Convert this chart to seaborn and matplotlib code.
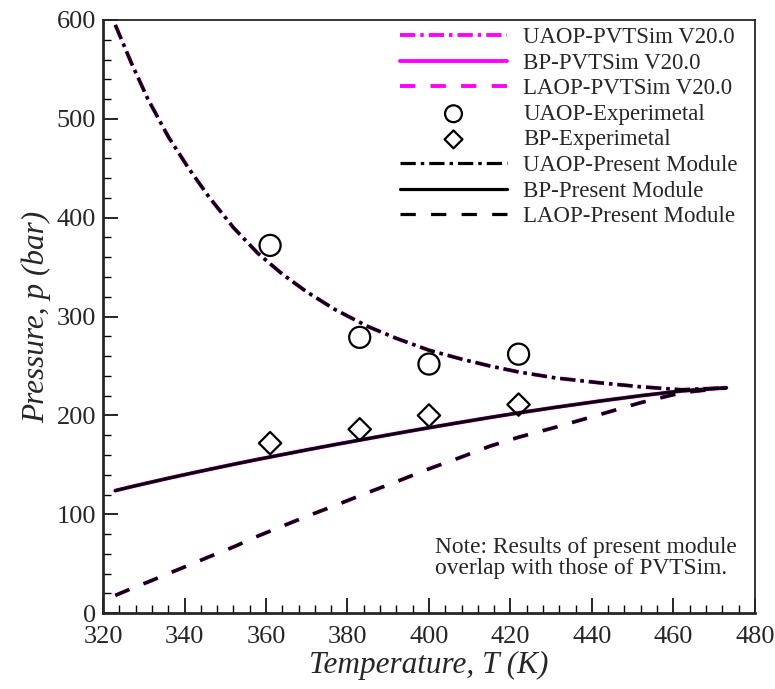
import numpy as np
import pandas as pd
import matplotlib
matplotlib.use("Agg")
import matplotlib.pyplot as plt
from matplotlib.ticker import MultipleLocator
import seaborn as sns

# model curves
temp_curve = [323, 327, 331, 336, 341, 346, 352, 358, 364, 370, 377, 385, 392, 400,
              408, 415, 422, 431, 442, 452, 462, 473]
uaop_curve = [595, 556, 520, 482, 450, 421, 390, 364, 343, 325, 307, 290, 278, 266,
              257, 250, 244, 238, 233, 229, 226, 228]
bp_curve = [124, 128, 131.8, 136.5, 141, 145.4, 150.6, 155.6, 160.4, 165.2, 170.6, 176.6,
            181.8, 187.6, 193.2, 198, 202.6, 208.2, 214.6, 220, 224.8, 228]
laop_curve = [18, 25, 31.5, 40, 48.5, 57, 67, 78, 88, 98, 109, 122, 133, 146,
              158, 169, 178, 188, 201, 213, 223, 228]

# experimental points
temp_exp = [361, 383, 400, 422]
uaop_exp = [372, 279, 252, 262]
bp_exp = [172, 186, 200, 211]

curves = pd.DataFrame({"T": temp_curve, "UAOP": uaop_curve, "BP": bp_curve, "LAOP": laop_curve})
exp = pd.DataFrame({"T": temp_exp, "UAOP": uaop_exp, "BP": bp_exp})

sns.set_style("ticks")
plt.rcParams["font.family"] = ["Liberation Serif", "DejaVu Serif"]
plt.rcParams["lines.scale_dashes"] = False

dashdot = (0, (11, 3.6, 2.5, 3.6))
dashed = (0, (11, 11))

fig = plt.figure(figsize=(7.75, 6.89), dpi=100)
ax = fig.add_axes([0.133, 0.110, 0.841, 0.861])

# PVTSim results (magenta) drawn first
sns.lineplot(data=curves, x="T", y="UAOP", sort=False, color="#ff00ff", lw=2.8, linestyle=dashdot, ax=ax, label="UAOP-PVTSim V20.0")
sns.lineplot(data=curves, x="T", y="BP", sort=False, color="#ff00ff", lw=2.8, linestyle="-", ax=ax, label="BP-PVTSim V20.0")
sns.lineplot(data=curves, x="T", y="LAOP", sort=False, color="#ff00ff", lw=2.8, linestyle=dashed, ax=ax, label="LAOP-PVTSim V20.0")

sns.scatterplot(data=exp, x="T", y="UAOP", marker="o", s=230, facecolor="none", edgecolor="black", linewidth=1.6, ax=ax, label="UAOP-Experimetal", zorder=5)
sns.scatterplot(data=exp, x="T", y="BP", marker="D", s=130, facecolor="none", edgecolor="black", linewidth=1.6, ax=ax, label="BP-Experimetal", zorder=5)

# present module (black)
sns.lineplot(data=curves, x="T", y="UAOP", sort=False, color="black", lw=2.3, linestyle=dashdot, ax=ax, label="UAOP-Present Module")
sns.lineplot(data=curves, x="T", y="BP", sort=False, color="black", lw=2.3, linestyle="-", ax=ax, label="BP-Present Module")
sns.lineplot(data=curves, x="T", y="LAOP", sort=False, color="black", lw=2.3, linestyle=dashed, ax=ax, label="LAOP-Present Module")

ax.set_xlim(320, 480)
ax.set_ylim(0, 600)
ax.xaxis.set_major_locator(MultipleLocator(20))
ax.xaxis.set_minor_locator(MultipleLocator(4))
ax.yaxis.set_major_locator(MultipleLocator(100))
ax.yaxis.set_minor_locator(MultipleLocator(20))
ax.tick_params(which="both", direction="in", labelsize=19, width=1.2, color="black")
ax.tick_params(which="major", length=11)
ax.tick_params(which="minor", length=6, width=1)
ax.tick_params(axis="x", pad=9)
ax.tick_params(axis="y", pad=5)
for sp in ax.spines.values():
    sp.set_linewidth(1.3)
ax.spines["left"].set_linewidth(2)
ax.spines["bottom"].set_linewidth(2)

ax.set_xlabel("Temperature, T (K)", fontsize=22.5, style="italic", labelpad=2)
ax.set_ylabel("Pressure, p (bar)", fontsize=22.5, style="italic", labelpad=4)

leg = ax.legend(loc="upper left", bbox_to_anchor=(0.445, 1.0), fontsize=16.5, frameon=False,
                borderaxespad=0, handlelength=4.67, labelspacing=0.2, handletextpad=0.7,
                borderpad=0.3, markerscale=0.8)

ax.text(0.509, 0.128, "Note: Results of present module\noverlap with those of PVTSim.",
        transform=ax.transAxes, fontsize=16.8, va="top", ha="left", linespacing=1.0)

fig.savefig("out.png", dpi=100)
